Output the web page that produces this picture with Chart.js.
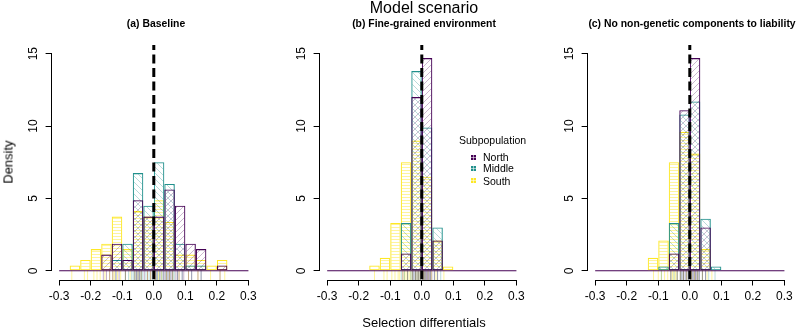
<!DOCTYPE html>
<html>
<head>
<meta charset="utf-8">
<script src="https://cdn.jsdelivr.net/npm/chart.js@4.4.1/dist/chart.umd.min.js"></script>
<style>
  body { margin: 0; background: #fff; font-family: "Liberation Sans", Arial, sans-serif; }
  #wrap { position: relative; width: 800px; height: 330px; overflow: hidden; }
  canvas { position: absolute; top: 0; }
  .t { position: absolute; white-space: nowrap; color: #000; transform: translate(-50%, -50%); }
  .main { font-size: 16px; }
  .sub { font-size: 10.4px; font-weight: bold; }
  .lab { font-size: 13px; }
  .leg { position: absolute; font-size: 10.5px; white-space: nowrap; }
  .box { position: absolute; width: 5px; height: 5px;
    background-image: linear-gradient(90deg, transparent 2px, rgba(255,255,255,.55) 2px, rgba(255,255,255,.55) 3px, transparent 3px),
                      linear-gradient(0deg, transparent 2px, rgba(255,255,255,.55) 2px, rgba(255,255,255,.55) 3px, transparent 3px); }
</style>
</head>
<body>
<div id="wrap">
  <canvas id="panelA" width="262" height="330" style="left:0px"></canvas>
  <canvas id="panelB" width="262" height="330" style="left:268px"></canvas>
  <canvas id="panelC" width="262" height="330" style="left:536px"></canvas>

  <div class="t main" style="left:424px; top:8px">Model scenario</div>
  <div class="t sub" style="left:156px; top:23px">(a) Baseline</div>
  <div class="t sub" style="left:424px; top:23px">(b) Fine-grained environment</div>
  <div class="t sub" style="left:692px; top:23px">(c) No non-genetic components to liability</div>
  <div class="t lab" style="left:8px; top:162px; transform: translate(-50%, -50%) rotate(-90deg)">Density</div>
  <div class="t lab" style="left:424px; top:322px">Selection differentials</div>

  <div class="leg" style="left:459px; top:134px">Subpopulation</div>
  <span class="box" style="left:471px; top:155px; background-color:#440154"></span>
  <div class="leg" style="left:483px; top:151px">North</div>
  <span class="box" style="left:471px; top:166px; background-color:#21908C"></span>
  <div class="leg" style="left:483px; top:162px">Middle</div>
  <span class="box" style="left:471px; top:178px; background-color:#FDE725"></span>
  <div class="leg" style="left:483px; top:175px">South</div>
</div>
<script>
// histogram bins: 18 bins of width 1/30 between -0.3 and 0.3 (bin centres)
const binCenters = [-0.283333, -0.25, -0.216667, -0.183333, -0.15, -0.116667, -0.083333, -0.05, -0.016667,
                    0.016667, 0.05, 0.083333, 0.116667, 0.15, 0.183333, 0.216667, 0.25, 0.283333];
const xTicks = [-0.3, -0.2, -0.1, 0, 0.1, 0.2, 0.3];
const yTicks = [0, 5, 10, 15];

// (a) Baseline - densities per bin
const northA  = [0, 0, 0, 0, 1.125, 1.875, 0.75, 4.875, 3.75, 3.75, 5.625, 4.5, 1.875, 1.5, 0, 0.375, 0, 0];
const middleA = [0, 0, 0, 0, 0, 0.75, 1.875, 6.75, 4.5, 7.5, 6.0, 1.875, 0.375, 0.375, 0, 0, 0, 0];
const southA  = [0, 0.375, 0.75, 1.5, 1.875, 3.75, 1.5, 4.125, 3.75, 4.875, 3.375, 1.125, 1.125, 0.75, 0.375, 0.75, 0, 0];

// (b) Fine-grained environment
const northB  = [0, 0, 0, 0, 0, 0, 0, 1.2, 12.0, 14.7, 2.1, 0, 0, 0, 0, 0, 0, 0];
const middleB = [0, 0, 0, 0, 0, 0, 0, 3.3, 13.8, 9.9, 3.0, 0, 0, 0, 0, 0, 0, 0];
const southB  = [0, 0, 0, 0, 0.375, 0.9, 3.3, 7.5, 9.0, 6.5, 2.1, 0.3, 0, 0, 0, 0, 0, 0];

// (c) No non-genetic components to liability
const northC  = [0, 0, 0, 0, 0, 0, 0, 1.2, 11.1, 14.7, 3.0, 0, 0, 0, 0, 0, 0, 0];
const middleC = [0, 0, 0, 0, 0, 0, 0.3, 3.3, 10.8, 11.7, 3.6, 0.3, 0, 0, 0, 0, 0, 0];
const southC  = [0, 0, 0, 0, 0, 0.9, 2.1, 7.5, 9.6, 8.1, 1.5, 0, 0, 0, 0, 0, 0, 0];

// rug: individual selection differentials (approximate)
const northRugA  = [-0.16, -0.15, -0.14, -0.13, -0.12, -0.11, -0.09, -0.06, -0.055, -0.05, -0.045, -0.04, -0.03, -0.02, -0.01,
                    0.005, 0.01, 0.02, 0.03, 0.035, 0.04, 0.045, 0.05, 0.055, 0.06, 0.07, 0.075, 0.08, 0.09, 0.095, 0.11, 0.12, 0.14, 0.15, 0.21];
const middleRugA = [-0.12, -0.09, -0.08, -0.07, -0.065, -0.06, -0.055, -0.05, -0.045, -0.04, -0.035, -0.025, -0.015, -0.005,
                    0.002, 0.008, 0.012, 0.018, 0.025, 0.03, 0.038, 0.045, 0.052, 0.06, 0.065, 0.075, 0.09, 0.12, 0.15];
const southRugA  = [-0.26, -0.22, -0.21, -0.19, -0.18, -0.17, -0.155, -0.14, -0.13, -0.125, -0.115, -0.105, -0.09, -0.075, -0.06, -0.05,
                    -0.04, -0.02, -0.01, 0.005, 0.015, 0.025, 0.04, 0.05, 0.06, 0.08, 0.11, 0.14, 0.18, 0.21, 0.225];
const northRugB  = [-0.06, -0.045, -0.03, -0.025, -0.02, -0.015, -0.01, -0.005, 0.002, 0.005, 0.008, 0.012, 0.015, 0.018, 0.022, 0.025, 0.028, 0.032, 0.04, 0.05];
const middleRugB = [-0.065, -0.055, -0.045, -0.035, -0.03, -0.025, -0.02, -0.015, -0.01, -0.005, 0.003, 0.008, 0.013, 0.02, 0.027, 0.04, 0.05, 0.06];
const southRugB  = [-0.15, -0.12, -0.11, -0.095, -0.085, -0.075, -0.07, -0.06, -0.055, -0.05, -0.045, -0.04, -0.035, -0.03, -0.02, -0.015,
                    -0.01, -0.005, 0.005, 0.01, 0.02, 0.03, 0.045, 0.07];
const northRugC  = [-0.06, -0.04, -0.03, -0.025, -0.02, -0.015, -0.01, -0.005, 0.002, 0.006, 0.01, 0.014, 0.018, 0.022, 0.026, 0.03, 0.04, 0.05];
const middleRugC = [-0.09, -0.06, -0.05, -0.04, -0.03, -0.025, -0.02, -0.012, -0.005, 0.003, 0.01, 0.017, 0.024, 0.03, 0.04, 0.05, 0.06, 0.08];
const southRugC  = [-0.115, -0.1, -0.09, -0.08, -0.07, -0.06, -0.055, -0.05, -0.045, -0.04, -0.03, -0.02, -0.01, 0.005, 0.015, 0.025, 0.04, 0.055, 0.07];

const COL = { North: "#440154", Middle: "#21908C", South: "#FDE725" };
const FONT = "'Liberation Sans', Arial, sans-serif";
Chart.defaults.font.family = FONT;

function hatch(ctx, color, kind, size) {
  const c = document.createElement("canvas");
  c.width = c.height = size;
  const g = c.getContext("2d");
  g.strokeStyle = color;
  g.lineWidth = 1;
  g.beginPath();
  if (kind === "horiz") {
    g.moveTo(0, size - 0.5); g.lineTo(size, size - 0.5);
  } else if (kind === "up") {
    for (const o of [-size, 0, size]) { g.moveTo(o, size); g.lineTo(o + size, 0); }
  } else {
    for (const o of [-size, 0, size]) { g.moveTo(o, 0); g.lineTo(o + size, size); }
  }
  g.stroke();
  return ctx.createPattern(c, "repeat");
}

// R-style axis lines: only from first to last tick
const rAxes = {
  id: "rAxes",
  afterDraw(chart) {
    const { ctx, chartArea, scales: { x, y } } = chart;
    ctx.save();
    ctx.strokeStyle = "#000";
    ctx.lineWidth = 1;
    ctx.beginPath();
    const yb = Math.round(chartArea.bottom) + 0.5;
    ctx.moveTo(x.getPixelForValue(xTicks[0]), yb);
    ctx.lineTo(x.getPixelForValue(xTicks[xTicks.length - 1]), yb);
    const xl = Math.round(chartArea.left) - 0.5;
    ctx.moveTo(xl, y.getPixelForValue(yTicks[0]));
    ctx.lineTo(xl, y.getPixelForValue(yTicks[yTicks.length - 1]));
    ctx.stroke();
    ctx.restore();
  }
};

function bars(vals) { return binCenters.map((x, i) => ({ x: x, y: vals[i] })); }
function rug(vals) { return vals.map(v => ({ x: v, y: -0.3 })); }

function makePanel(id, north, middle, south, rN, rM, rS) {
  const canvas = document.getElementById(id);
  const ctx = canvas.getContext("2d");
  const barOpts = { borderWidth: 1.1, borderSkipped: false, inflateAmount: 0, barPercentage: 1, categoryPercentage: 1 };
  const rugOpts = { type: "scatter", pointStyle: "line", rotation: 90, pointRadius: 5, borderWidth: 1, clip: false };

  new Chart(canvas, {
    type: "bar",
    data: {
      datasets: [
        { type: "line", data: [{ x: 0, y: -0.6 }, { x: 0, y: 15.6 }], borderColor: "#000", borderWidth: 3,
          borderDash: [9, 4.5], pointRadius: 0 },
        { label: "North", data: bars(north), backgroundColor: hatch(ctx, "rgba(68,1,84,0.28)", "up", 6),
          borderColor: COL.North, ...barOpts },
        { label: "Middle", data: bars(middle), backgroundColor: hatch(ctx, "rgba(33,144,140,0.32)", "down", 6),
          borderColor: COL.Middle, ...barOpts },
        { label: "South", data: bars(south), backgroundColor: hatch(ctx, "rgba(253,231,37,0.45)", "horiz", 3),
          borderColor: COL.South, ...barOpts },
        { type: "line", data: [{ x: -0.3, y: 0 }, { x: 0.3, y: 0 }], borderColor: COL.North, borderWidth: 1.1, pointRadius: 0 },
        { ...rugOpts, data: rug(rN), borderColor: "rgba(68,1,84,0.3)" },
        { ...rugOpts, data: rug(rM), borderColor: "rgba(33,144,140,0.3)" },
        { ...rugOpts, data: rug(rS), borderColor: "rgba(253,231,37,0.45)" }
      ]
    },
    options: {
      responsive: false,
      animation: false,
      grouped: false,
      layout: { padding: { top: 45, right: 2, left: 0, bottom: 0 } },
      plugins: { legend: { display: false }, tooltip: { enabled: false }, title: { display: false } },
      scales: {
        x: {
          type: "linear", min: -0.324, max: 0.324, offset: false,
          afterBuildTicks: s => { s.ticks = xTicks.map(v => ({ value: v })); },
          afterFit: s => { s.height = 50.5; },
          grid: { offset: false, drawOnChartArea: false, drawTicks: true, tickLength: 6, color: "#000", lineWidth: 1 },
          border: { display: false },
          ticks: { color: "#000", font: { size: 12 }, padding: 4, maxRotation: 0, autoSkip: false,
                   callback: v => v.toFixed(1) }
        },
        y: {
          type: "linear", min: -0.6, max: 15.6,
          afterBuildTicks: s => { s.ticks = yTicks.map(v => ({ value: v })); },
          afterFit: s => { s.width = 51.6; },
          grid: { drawOnChartArea: false, drawTicks: true, tickLength: 6, color: "#000", lineWidth: 1 },
          border: { display: false },
          ticks: { color: "#000", font: { size: 12 }, padding: 5, minRotation: 90, maxRotation: 90,
                   crossAlign: "center", autoSkip: false, callback: v => String(v) }
        }
      }
    },
    plugins: [rAxes]
  });
}

makePanel("panelA", northA, middleA, southA, northRugA, middleRugA, southRugA);
makePanel("panelB", northB, middleB, southB, northRugB, middleRugB, southRugB);
makePanel("panelC", northC, middleC, southC, northRugC, middleRugC, southRugC);
</script>
</body>
</html>
